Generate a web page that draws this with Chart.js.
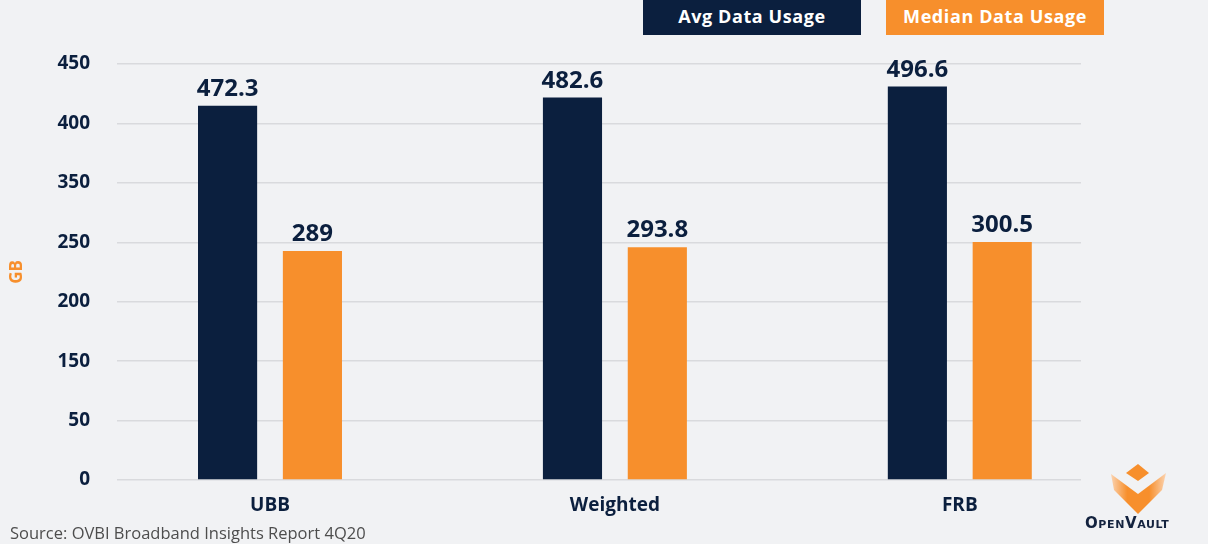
<!DOCTYPE html>
<html>
<head>
<meta charset="utf-8">
<script src="https://cdn.jsdelivr.net/npm/chart.js@4"></script>
<style>
  body { margin: 0; background: #f1f2f4; font-family: "Open Sans", sans-serif; }
  #wrap { position: relative; width: 1208px; height: 544px; overflow: hidden; }
  #usageChart { position: absolute; left: 0; top: 0; }
  .key { position: absolute; top: 0; height: 35px; width: 218px; color: #fff;
         font: 700 18px "Open Sans", sans-serif; letter-spacing: 0.6px; text-align: center; line-height: 33px; }
  #source { position: absolute; left: 10px; top: 521px; font: 400 16.5px "Open Sans", sans-serif; color: #4d4d4d; }
  #logoText { position: absolute; left: 1085px; top: 514px; font: 700 15px "DejaVu Sans", sans-serif;
              font-variant: small-caps; letter-spacing: 0.6px; color: #14233f; }
</style>
</head>
<body>
<div id="wrap">
  <canvas id="usageChart" width="1208" height="544"></canvas>
  <div class="key" style="left:643px;background:#0b1f3e;">Avg Data Usage</div>
  <div class="key" style="left:886px;background:#f78f2c;">Median Data Usage</div>
  <div id="source">Source: OVBI Broadband Insights Report 4Q20</div>
  <svg style="position:absolute;left:1100px;top:458px" width="80" height="62" viewBox="1100 458 80 62">
    <defs>
      <linearGradient id="wingL" x1="0" y1="0" x2="1" y2="0">
        <stop offset="0" stop-color="#fbd3b0"/><stop offset="0.6" stop-color="#f78f2c"/>
      </linearGradient>
      <linearGradient id="wingR" x1="1" y1="0" x2="0" y2="0">
        <stop offset="0" stop-color="#fbd3b0"/><stop offset="0.6" stop-color="#f78f2c"/>
      </linearGradient>
    </defs>
    <polygon points="1126,473 1138,464 1149,473 1138,481" fill="#f78f2c"/>
    <polygon points="1111,474 1138,494 1138,514 1114,490" fill="url(#wingL)"/>
    <polygon points="1166,473 1138,494 1138,514 1162,490" fill="url(#wingR)"/>
  </svg>
  <div id="logoText">OpenVault</div>
</div>
<script>
// OpenVault - average vs median monthly data usage (GB)

const categories = ['UBB', 'Weighted', 'FRB'];
const avgUsage = [472.3, 482.6, 496.6];
const medianUsage = [289, 293.8, 300.5];
// the source picture labels its gridlines like this (75 GB per line)
const yTickLabels = ['0', '50', '150', '200', '250', '350', '400', '450'];

const navy = '#0b1f3e';
const orange = '#f78f2c';
const ctx = document.getElementById('usageChart');

// write the value above each bar
const valueLabels = {
    id: 'valueLabels',
    afterDatasetsDraw(chart) {
        const c = chart.ctx;
        c.save();
        c.font = '700 24px "Open Sans", sans-serif';
        c.fillStyle = navy;
        c.textAlign = 'center';
        c.textBaseline = 'alphabetic';
        chart.data.datasets.forEach((ds, i) => {
            chart.getDatasetMeta(i).data.forEach((bar, j) => {
                c.fillText(String(ds.data[j].y), bar.x, bar.y - 10);
            });
        });
        c.restore();
    }
};

const usageChart = new Chart(ctx, {
    type: 'bar',
    data: {
        datasets: [{
            label: 'Avg Data Usage',
            data: avgUsage.map((v, i) => ({ x: i, y: v })),
            backgroundColor: navy
        }, {
            label: 'Median Data Usage',
            data: medianUsage.map((v, i) => ({ x: i, y: v })),
            backgroundColor: orange
        }]
    },
    options: {
        responsive: false,
        animation: false,
        categoryPercentage: 0.492,
        barPercentage: 0.697,
        layout: { padding: { left: 0, right: 127, top: 64, bottom: 0 } },
        scales: {
            x: {
                type: 'linear',
                offset: false,
                min: -0.4436,
                max: 2.3514,
                afterBuildTicks: axis => { axis.ticks = categories.map((c, i) => ({ value: i })); },
                afterFit: axis => { axis.height = 64; },
                grid: { display: false },
                border: { display: false },
                ticks: {
                    callback: v => categories[v],
                    color: navy,
                    padding: 6,
                    font: { family: '"Open Sans", sans-serif', size: 19, weight: '700' }
                }
            },
            y: {
                min: 0,
                max: 525,
                afterFit: axis => { axis.width = 117; },
                grid: { color: '#d9dadd', lineWidth: 1.5, drawTicks: false },
                border: { display: false },
                ticks: {
                    stepSize: 75,
                    callback: v => yTickLabels[Math.round(v / 75)],
                    color: navy,
                    padding: 27,
                    font: { family: '"Open Sans", sans-serif', size: 19, weight: '700' }
                },
                title: {
                    display: true,
                    text: 'GB',
                    color: orange,
                    padding: { top: 7, bottom: 0 },
                    font: { family: '"Open Sans", sans-serif', size: 17, weight: '700' }
                }
            }
        },
        plugins: {
            legend: { display: false },
            tooltip: { enabled: false }
        }
    },
    plugins: [valueLabels]
});
</script>
</body>
</html>
